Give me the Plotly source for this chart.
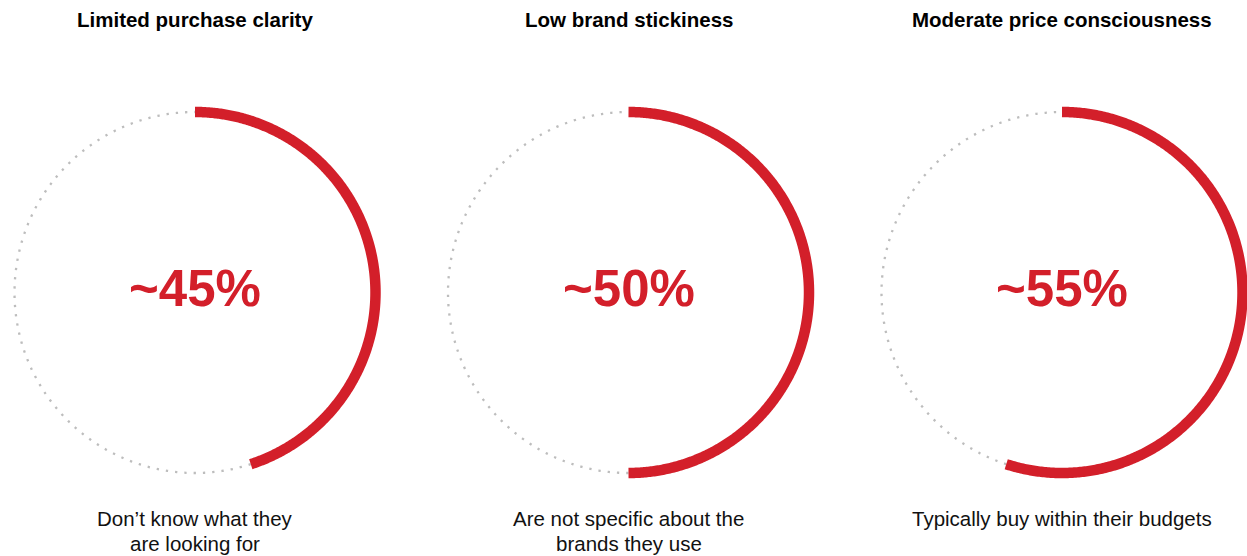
import numpy as np
import plotly.graph_objects as go

# Survey highlights shown as progress rings
titles = ["Limited purchase clarity", "Low brand stickiness", "Moderate price consciousness"]
shares = [45, 50, 55]  # percent of respondents
captions = [
    ["Don\u2019t know what they", "are looking for"],
    ["Are not specific about the", "brands they use"],
    ["Typically buy within their budgets"],
]

W, H = 1247, 556
centers_x = [195, 628.5, 1062]
center_y = 292.5
radius = 180.5

RED = "#D31F2A"
GREY = "#BDBDBD"
FONT = "Liberation Sans, Arial, sans-serif"

fig = go.Figure()
annotations = []

for cx, title, share, caption in zip(centers_x, titles, shares, captions):
    split = share / 100 * 2 * np.pi
    # filled part runs clockwise from 12 o'clock
    t_on = np.linspace(0, split, 400)
    t_off = np.linspace(split, 2 * np.pi, 400)

    fig.add_trace(go.Scatter(
        x=cx + radius * np.sin(t_off), y=center_y - radius * np.cos(t_off),
        mode="lines", line=dict(color=GREY, width=2.3, dash="2.3px,7px", simplify=False),
        hoverinfo="skip", showlegend=False,
    ))
    fig.add_trace(go.Scatter(
        x=cx + radius * np.sin(t_on), y=center_y - radius * np.cos(t_on),
        mode="lines", line=dict(color=RED, width=10.5, simplify=False),
        hoverinfo="skip", showlegend=False,
    ))

    annotations.append(dict(
        x=cx, y=19.5, xref="x", yref="y", text=title, showarrow=False,
        xanchor="center", yanchor="middle",
        font=dict(family=FONT, size=20.5, color="#000000", weight="bold"),
    ))
    annotations.append(dict(
        x=cx, y=center_y - 4, xref="x", yref="y", text=f"~{share}%", showarrow=False,
        xanchor="center", yanchor="middle",
        font=dict(family=FONT, size=51, color=RED, weight="bold"),
    ))
    for i, line in enumerate(caption):
        annotations.append(dict(
            x=cx, y=518.5 + 24.5 * i, xref="x", yref="y", text=line, showarrow=False,
            xanchor="center", yanchor="middle",
            font=dict(family=FONT, size=20.5, color="#111111"),
        ))

fig.update_layout(
    width=W, height=H,
    margin=dict(l=0, r=0, t=0, b=0),
    paper_bgcolor="white", plot_bgcolor="white",
    xaxis=dict(range=[0, W], visible=False, fixedrange=True),
    yaxis=dict(range=[H, 0], visible=False, fixedrange=True),
    annotations=annotations,
)

fig.write_html("out.html", config={"displayModeBar": False})
